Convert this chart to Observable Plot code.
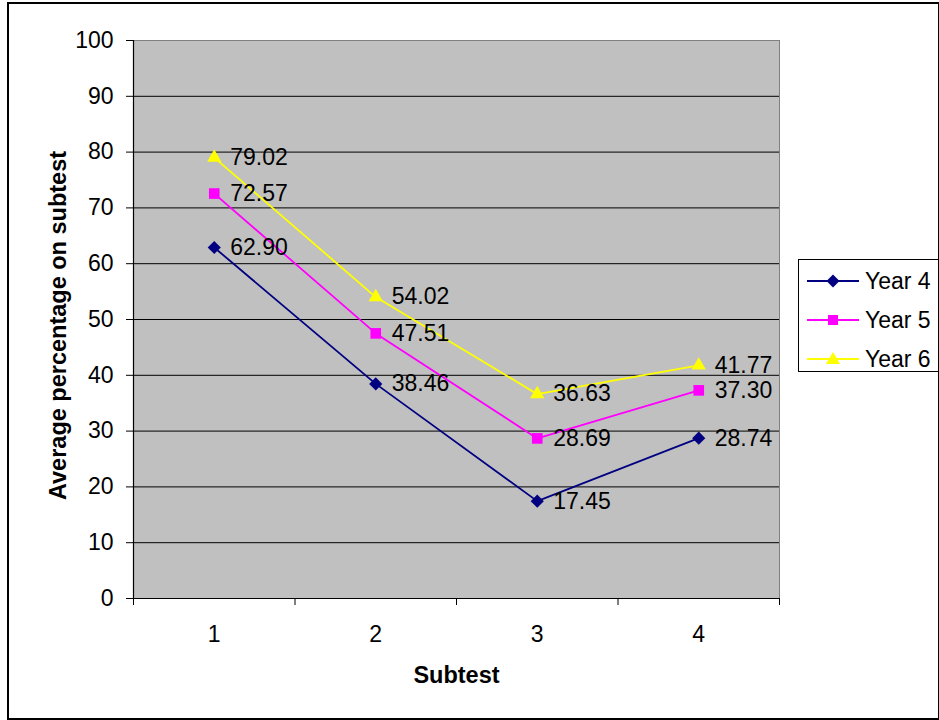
<!DOCTYPE html>
<html>
<head>
<meta charset="utf-8">
<script src="https://cdn.jsdelivr.net/npm/d3@7"></script>
<script src="https://cdn.jsdelivr.net/npm/@observablehq/plot@0.6"></script>
<style>
  html, body { margin: 0; padding: 0; background: #fff; }
  #wrap { position: relative; width: 939px; height: 720px; overflow: hidden; font-family: "Liberation Sans", Arial, sans-serif; }
  #border { position: absolute; left: 7px; top: 2px; width: 929px; height: 714px; border: 2px solid #000; box-sizing: content-box; pointer-events: none; }
  #legend { position: absolute; left: 798px; top: 259px; width: 150px; height: 111px; border: 1px solid #000; background: #fff; }
  .li { position: absolute; left: 8px; height: 26px; display: flex; align-items: center; font-size: 23px; }
  .li span { margin-left: 6px; }
</style>
</head>
<body>
<div id="wrap"><div id="chart"></div><div id="legend"></div><div id="border"></div></div>
<script>
const subtests = [1, 2, 3, 4];
const series = ["Year 4", "Year 5", "Year 6"];
const year4 = [62.90, 38.46, 17.45, 28.74];
const year5 = [72.57, 47.51, 28.69, 37.30];
const year6 = [79.02, 54.02, 36.63, 41.77];
const colors = ["#000080", "#FF00FF", "#FFFF00"];
const symbols = ["diamond2", "square", "triangle"];
const yTicks = [0, 10, 20, 30, 40, 50, 60, 70, 80, 90, 100];

const values = [year4, year5, year6];
const data = [];
series.forEach((s, i) => subtests.forEach((t, j) => data.push({series: s, subtest: t, value: values[i][j]})));

const markerR = {"Year 4": 5.9, "Year 5": 6.0, "Year 6": 5.3};

const chart = Plot.plot({
  width: 939,
  height: 720,
  marginLeft: 133,
  marginRight: 160,
  marginTop: 40,
  marginBottom: 122,
  style: {fontFamily: "'Liberation Sans', Arial, sans-serif", fontSize: "23px", background: "transparent"},
  x: {domain: [0.5, 4.5]},
  y: {domain: [0, 100]},
  color: {domain: series, range: colors},
  symbol: {domain: series, range: symbols},
  marks: [
    Plot.frame({fill: "#C0C0C0", stroke: "#808080"}),
    Plot.gridY(yTicks.filter(d => d > 0 && d < 100), {stroke: "#000", strokeOpacity: 1, strokeWidth: 1}),
    Plot.axisY({ticks: yTicks, tickSize: 7, tickPadding: 13, label: null, fontSize: 23, fill: "#000"}),
    Plot.axisX({ticks: [0.5, 1.5, 2.5, 3.5, 4.5], tickSize: 7, tickFormat: () => "", label: null}),
    Plot.axisX({ticks: subtests, tickSize: 0, tickPadding: 27, label: null, fontSize: 23, fill: "#000", tickFormat: d => String(d)}),
    Plot.ruleY([0], {stroke: "#000", strokeWidth: 1.2}),
    Plot.ruleX([0.5], {stroke: "#000", strokeWidth: 1.2}),
    Plot.line(data, {x: "subtest", y: "value", z: "series", stroke: "series", strokeWidth: 1.8}),
    ...series.map(s => Plot.dot(data.filter(d => d.series === s), {x: "subtest", y: "value", fill: "series", symbol: "series", stroke: "none", r: markerR[s]})),
    Plot.text(data, {x: "subtest", y: "value", text: d => d.value.toFixed(2), textAnchor: "start", dx: 16, fontSize: 23, fill: "#000"}),
    Plot.text(["Average percentage on subtest"], {frameAnchor: "left", textAnchor: "middle", lineAnchor: "middle", rotate: -90, dx: -75, dy: 6, fontWeight: "bold", fontSize: 23.5, fill: "#000"}),
    Plot.text(["Subtest"], {frameAnchor: "bottom", textAnchor: "middle", lineAnchor: "middle", dy: 77, fontWeight: "bold", fontSize: 23.5, fill: "#000"})
  ]
});
document.getElementById("chart").appendChild(chart);

// legend (HTML, outside the plot)
const legend = document.getElementById("legend");
const shapes = {
  "diamond2": '<path d="M26,5.5 L32.5,12 L26,18.5 L19.5,12 Z" fill="COL"/>',
  "square": '<rect x="21" y="7" width="10" height="10" fill="COL"/>',
  "triangle": '<path d="M26,5 L33,17 L19,17 Z" fill="COL"/>'
};
series.forEach((s, i) => {
  const el = document.createElement("div");
  el.className = "li";
  el.style.top = (8 + i * 39) + "px";
  el.innerHTML = `<svg width="52" height="24"><line x1="0" x2="52" y1="12" y2="12" stroke="${colors[i]}" stroke-width="1.8"/>${shapes[symbols[i]].replace("COL", colors[i])}</svg><span>${s}</span>`;
  legend.appendChild(el);
});
</script>
</body>
</html>
